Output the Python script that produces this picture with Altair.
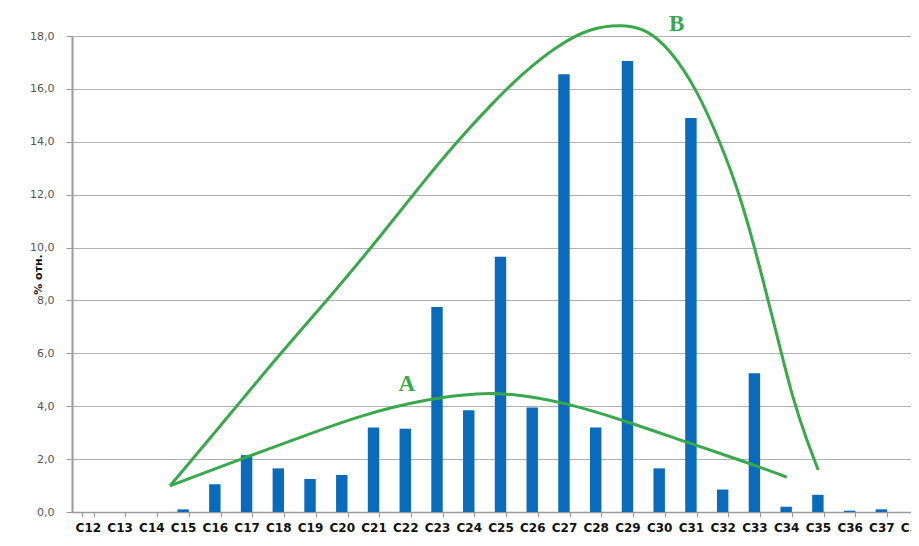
import altair as alt
import pandas as pd

# ---- data ----
categories = ["C12", "C13", "C14", "C15", "C16", "C17", "C18", "C19", "C20",
              "C21", "C22", "C23", "C24", "C25", "C26", "C27", "C28", "C29",
              "C30", "C31", "C32", "C33", "C34", "C35", "C36", "C37", "C38"]
values = [0, 0, 0, 0.1, 1.05, 2.15, 1.65, 1.25, 1.4,
          3.2, 3.15, 7.75, 3.85, 9.65, 3.95, 16.55, 3.2, 17.05,
          1.65, 14.9, 0.85, 5.25, 0.2, 0.65, 0.05, 0.1, 0]

# hand-drawn envelope curves (category position, % value)
curve_a_pos = [14.59, 16.79, 18.47, 20.57, 22.68, 24.35, 25.4, 26.98, 28.87, 30.66, 32.55, 34.02]
curve_a_val = [0.99, 1.99, 2.72, 3.66, 4.28, 4.51, 4.47, 4.16, 3.47, 2.72, 1.97, 1.32]
curve_b_pos = [14.59, 16.58, 18.05, 19.52, 21.0, 22.57, 23.62, 24.67, 25.72, 26.77, 27.82,
               28.87, 29.61, 30.34, 31.18, 31.92, 32.55, 33.18, 33.7, 34.22, 34.65, 35.01]
curve_b_val = [0.99, 3.84, 5.98, 7.98, 10.1, 12.49, 13.99, 15.37, 16.62, 17.62, 18.31,
               18.44, 18.25, 17.5, 16.0, 13.99, 11.99, 9.23, 6.73, 4.22, 2.72, 1.59]

label_text = ["A", "B"]
label_pos = [22.05, 30.55]
label_val = [4.85, 18.45]

y_ticks = [0, 2, 4, 6, 8, 10, 12, 14, 16, 18]

# ---- build ----
bars_df = pd.DataFrame({"cat": categories, "val": values})
curves_df = pd.concat([
    pd.DataFrame({"curve": "A", "pos": curve_a_pos, "val": curve_a_val, "order": range(len(curve_a_pos))}),
    pd.DataFrame({"curve": "B", "pos": curve_b_pos, "val": curve_b_val, "order": range(len(curve_b_pos))}),
])
labels_df = pd.DataFrame({"txt": label_text, "pos": label_pos, "val": label_val})

step = 31.74
range_w = step * len(categories)
green = "#38a84c"

y_scale = alt.Scale(domain=[0, 18], nice=False, zero=True)

bars = alt.Chart(bars_df).mark_bar(color="#0a6abb").encode(
    x=alt.X("cat:N", sort=categories,
            scale=alt.Scale(domain=categories, range=[0, range_w],
                            paddingInner=0.64, paddingOuter=0.32),
            axis=alt.Axis(title=None, labelAngle=0, labelFont="DejaVu Sans",
                          labelFontWeight="bold", labelFontSize=12,
                          labelColor="#111111", labelOverlap=False, labelPadding=5,
                          tickBand="extent", ticks=True, tickSize=5,
                          tickColor="#9a9a9a", domainColor="#9a9a9a",
                          domainWidth=1.5, grid=False)),
    y=alt.Y("val:Q", scale=y_scale,
            axis=alt.Axis(values=y_ticks,
                          labelExpr="replace(format(datum.value, '.1f'), '.', ',')",
                          labelFont="DejaVu Sans", labelFontSize=11,
                          labelColor="#555555", labelPadding=12,
                          ticks=True, tickSize=6, tickColor="#9a9a9a",
                          domainColor="#9a9a9a", domainWidth=2,
                          grid=True, gridColor="#b0b0b0", gridWidth=1.2,
                          title="% отн.", titleFont="DejaVu Sans",
                          titleFontSize=11, titleFontWeight="bold",
                          titleColor="#111111", titleAngle=270,
                          titleX=-34, titleY=238, titleAlign="center",
                          titleBaseline="middle")),
)

x_q = alt.X("pos:Q", scale=alt.Scale(domain=[11.5, 38.5], range=[0, range_w],
                                     nice=False, zero=False), axis=None)

lines = alt.Chart(curves_df).mark_line(color=green, strokeWidth=3,
                                       interpolate="basis", clip=False).encode(
    x=x_q,
    y=alt.Y("val:Q", scale=y_scale),
    detail="curve:N",
    order="order:Q",
)

texts = alt.Chart(labels_df).mark_text(color=green, font="Liberation Serif",
                                       fontWeight="bold", fontSize=23,
                                       clip=False).encode(
    x=x_q,
    y=alt.Y("val:Q", scale=y_scale),
    text="txt:N",
)

overlay = alt.layer(lines, texts)

chart = alt.layer(bars, overlay).resolve_scale(x="independent").properties(
    width=839, height=476,
    autosize=alt.AutoSizeParams(type="none"),
    padding={"left": 64, "top": 28, "right": 0, "bottom": 22},
    background="white",
).configure_view(stroke=None)

chart.save("out.html", embed_options={"renderer": "svg", "actions": False})
